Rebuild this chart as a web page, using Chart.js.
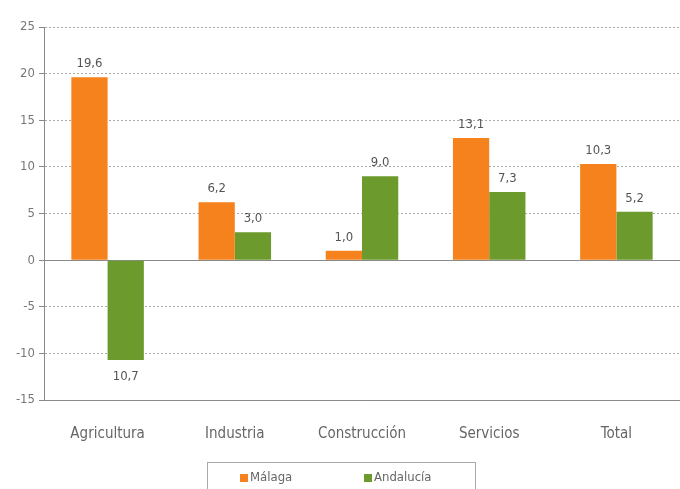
<!DOCTYPE html>
<html>
<head>
<meta charset="utf-8">
<script src="https://cdn.jsdelivr.net/npm/chart.js@4"></script>
<style>
  html, body { margin: 0; padding: 0; background: #fff; }
  #wrap { width: 680px; height: 489px; }
</style>
</head>
<body>
<div id="wrap"><canvas id="myChart" width="680" height="489"></canvas></div>
<script>
const categories = ['Agricultura', 'Industria', 'Construcción', 'Servicios', 'Total'];
const malaga = [19.6, 6.2, 1.0, 13.1, 10.3];
const andalucia = [-10.7, 3.0, 9.0, 7.3, 5.2];
const seriesNames = ['Málaga', 'Andalucía'];
const yTicks = [25, 20, 15, 10, 5, 0, -5, -10, -15];

const fontFamily = '"Liberation Sans Narrow", "DejaVu Sans Condensed", "Liberation Sans", sans-serif';
const orange = '#f6821e';
const green = '#6c9a2c';

function fmt(v) {
  return Math.abs(v).toFixed(1).replace('.', ',');
}

// value labels above / below each bar, plus zero line and legend
const extras = {
  id: 'extras',
  beforeDatasetsDraw(chart) {
    const { ctx, chartArea, scales } = chart;
    const y0 = Math.round(scales.y.getPixelForValue(0)) + 0.5;
    ctx.save();
    ctx.strokeStyle = '#8a8a8a';
    ctx.lineWidth = 1;
    ctx.beginPath();
    ctx.moveTo(chartArea.left, y0);
    ctx.lineTo(chartArea.right, y0);
    ctx.stroke();
    ctx.restore();
  },
  afterDatasetsDraw(chart) {
    const { ctx } = chart;
    ctx.save();
    ctx.font = '13px ' + fontFamily;
    ctx.fillStyle = '#555';
    ctx.textAlign = 'center';
    chart.data.datasets.forEach((ds, i) => {
      chart.getDatasetMeta(i).data.forEach((bar, j) => {
        const v = ds.data[j];
        if (v >= 0) {
          ctx.textBaseline = 'bottom';
          ctx.fillText(fmt(v), bar.x, bar.y - 7);
        } else {
          ctx.textBaseline = 'top';
          ctx.fillText(fmt(v), bar.x, bar.y + 10);
        }
      });
    });

    // legend
    const ly = 478;
    const items = [{ x: 240, name: seriesNames[0], color: orange }, { x: 364, name: seriesNames[1], color: green }];
    ctx.textAlign = 'left';
    ctx.textBaseline = 'middle';
    items.forEach(it => {
      ctx.fillStyle = it.color;
      ctx.fillRect(it.x, ly - 4, 8, 8);
      ctx.fillStyle = '#666';
      ctx.fillText(it.name, it.x + 10, ly);
    });
    ctx.strokeStyle = '#aaa';
    ctx.lineWidth = 1;
    ctx.strokeRect(207.5, 462.5, 268, 40);
    ctx.restore();
  }
};

const chart = new Chart(document.getElementById('myChart').getContext('2d'), {
  type: 'bar',
  data: {
    labels: categories,
    datasets: [
      { label: seriesNames[0], data: malaga, backgroundColor: orange },
      { label: seriesNames[1], data: andalucia, backgroundColor: green }
    ]
  },
  options: {
    responsive: false,
    animation: false,
    layout: { padding: { top: 27, right: 0, left: 0, bottom: 0 } },
    datasets: { bar: { categoryPercentage: 0.57, barPercentage: 1 } },
    plugins: { legend: { display: false }, tooltip: { enabled: false } },
    scales: {
      x: {
        grid: { display: false },
        border: { color: '#8a8a8a', width: 1 },
        ticks: { color: '#666', padding: 17, font: { family: fontFamily, size: 15 } },
        afterFit(scale) { scale.height = 89; }
      },
      y: {
        min: -15,
        max: 25,
        afterBuildTicks(scale) { scale.ticks = yTicks.map(v => ({ value: v })); },
        grid: {
          color: '#aaa',
          tickColor: '#888',
          tickLength: 5,
          tickBorderDash: []
        },
        border: { color: '#8a8a8a', width: 1, dash: [2, 2] },
        ticks: {
          color: '#777',
          padding: 4,
          font: { family: fontFamily, size: 13 },
          callback: v => String(v)
        },
        afterFit(scale) { scale.width = 44; }
      }
    }
  },
  plugins: [extras]
});
</script>
</body>
</html>
